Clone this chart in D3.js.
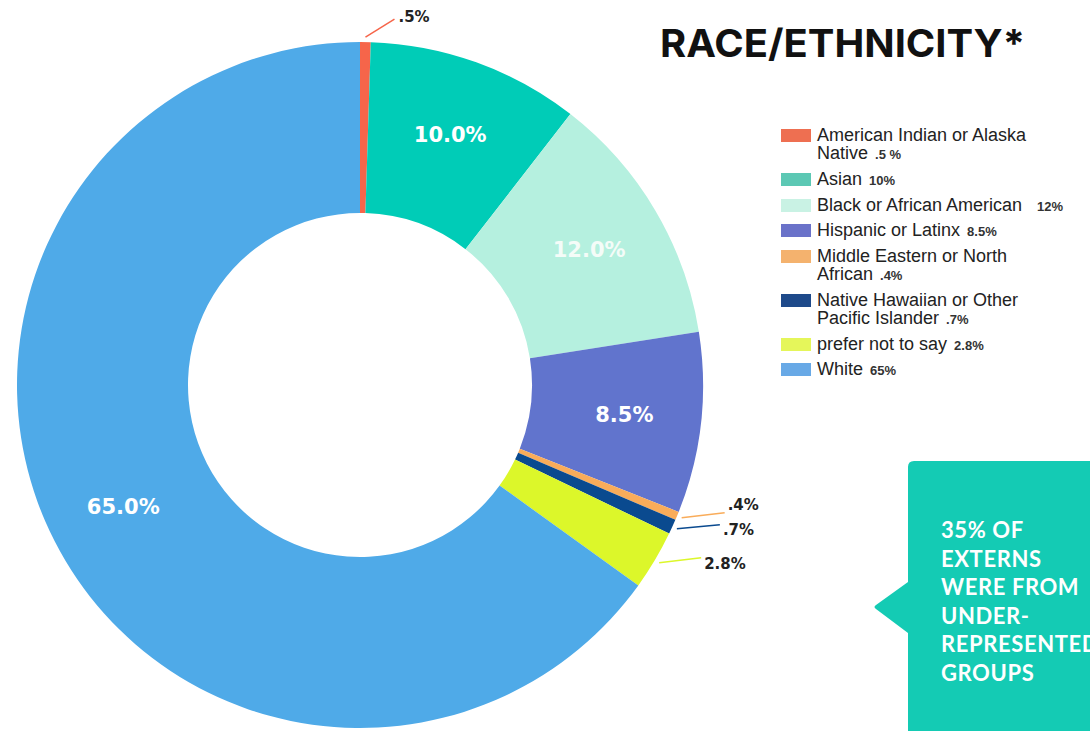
<!DOCTYPE html>
<html>
<head>
<meta charset="utf-8">
<script src="https://cdn.jsdelivr.net/npm/d3@7"></script>
<style>
  html, body { margin: 0; padding: 0; background: #fff; overflow: hidden; }
  svg { display: block; }
</style>
</head>
<body>
<svg id="chart" width="1090" height="731"></svg>
<script>
// ---------- DATA ----------
const categories = [
  "American Indian or Alaska Native",
  "Asian",
  "Black or African American",
  "Hispanic or Latinx",
  "Middle Eastern or North African",
  "Native Hawaiian or Other Pacific Islander",
  "prefer not to say",
  "White"
];
const values = [0.5, 10, 12, 8.5, 0.4, 0.7, 2.8, 65];
const sliceLabels = [".5%", "10.0%", "12.0%", "8.5%", ".4%", ".7%", "2.8%", "65.0%"];
const legendLines = [
  ["American Indian or Alaska", "Native"],
  ["Asian"],
  ["Black or African American"],
  ["Hispanic or Latinx"],
  ["Middle Eastern or North", "African"],
  ["Native Hawaiian or Other", "Pacific Islander"],
  ["prefer not to say"],
  ["White"]
];
const legendValues = [".5 %", "10%", "12%", "8.5%", ".4%", ".7%", "2.8%", "65%"];
const sliceColors = ["#f6654a", "#00ccb7", "#b5f0df", "#6174cd", "#f9ac5a", "#0a4a8f", "#dcf72a", "#4faae8"];
const legendColors = ["#ee6f51", "#5cc8b4", "#c9f2e4", "#6a72c9", "#f4b26e", "#1e4a8a", "#e5f65a", "#68a9e6"];
const title = "RACE/ETHNICITY*";
const calloutLines = ["35% OF", "EXTERNS", "WERE FROM", "UNDER-", "REPRESENTED", "GROUPS"];

// ---------- LAYOUT ----------
const svg = d3.select("#chart");
const cx = 360, cy = 385, rOuter = 343, rInner = 172, rLabel = 266;

const color = d3.scaleOrdinal().domain(categories).range(sliceColors);
const legendColor = d3.scaleOrdinal().domain(categories).range(legendColors);

const data = categories.map((c, i) => ({ name: c, value: values[i], label: sliceLabels[i], i }));
const pie = d3.pie().sort(null).value(d => d.value);
const arcs = pie(data);
const arc = d3.arc().innerRadius(rInner).outerRadius(rOuter);
const labelArc = d3.arc().innerRadius(rLabel).outerRadius(rLabel);

const g = svg.append("g").attr("transform", `translate(${cx},${cy})`);
g.selectAll("path.slice").data(arcs).join("path")
  .attr("class", "slice")
  .attr("d", arc)
  .attr("fill", d => color(d.data.name));

// inside labels (big slices)
const inside = arcs.filter(d => d.data.value >= 5);
g.selectAll("text.inlab").data(inside).join("text")
  .attr("class", "inlab")
  .attr("transform", d => `translate(${labelArc.centroid(d)})`)
  .attr("text-anchor", "middle")
  .attr("dy", "0.36em")
  .attr("font-family", "'DejaVu Sans', sans-serif")
  .attr("font-weight", "bold")
  .attr("font-size", 21)
  .attr("fill", d => d.data.name === "Black or African American" ? "#f4fcf8" : "#ffffff")
  .text(d => d.data.label);

// outside labels with leader lines
const outside = arcs.filter(d => d.data.value < 5);
const leaderOffset = { // dx, dy from start point to line end; text dx, dy from line end
  "American Indian or Alaska Native": [29, -18, 4, 3],
  "Middle Eastern or North African": [43, -5, 3, -3],
  "Native Hawaiian or Other Pacific Islander": [43, -4, 3, 10],
  "prefer not to say": [42, -5, 3, 11]
};
outside.forEach(d => {
  const mid = (d.startAngle + d.endAngle) / 2;
  const sx = Math.sin(mid) * (rOuter + 5);
  const sy = -Math.cos(mid) * (rOuter + 5);
  const o = leaderOffset[d.data.name];
  const ex = sx + o[0], ey = sy + o[1];
  g.append("line")
    .attr("x1", sx).attr("y1", sy).attr("x2", ex).attr("y2", ey)
    .attr("stroke", color(d.data.name))
    .attr("stroke-width", 1.5);
  g.append("text")
    .attr("x", ex + o[2]).attr("y", ey + o[3])
    .attr("font-family", "'DejaVu Sans', sans-serif")
    .attr("font-weight", "bold")
    .attr("font-size", 15)
    .attr("fill", "#222")
    .text(d.data.label);
});

// title
svg.append("text")
  .attr("x", 660).attr("y", 57)
  .attr("font-family", "Inter, 'Noto Sans', sans-serif")
  .attr("font-weight", 700)
  .attr("font-size", 38.5)
  .attr("fill", "#111")
  .attr("textLength", 365)
  .attr("lengthAdjust", "spacingAndGlyphs")
  .text(title);

// legend
const legendX = 781, swW = 30, swH = 13, textX = 817;
const firstBaselines = [141, 185, 211, 236, 262, 306, 350, 375];
const lineGap = 18;
const valueGap = { "Black or African American": 15 };
const lg = svg.append("g");
categories.forEach((c, i) => {
  const b = firstBaselines[i];
  lg.append("rect")
    .attr("x", legendX).attr("y", b - 12)
    .attr("width", swW).attr("height", swH)
    .attr("fill", legendColor(c));
  const lines = legendLines[i];
  let lastText;
  lines.forEach((ln, k) => {
    lastText = lg.append("text")
      .attr("x", textX).attr("y", b + k * lineGap)
      .attr("font-family", "'Liberation Sans', Arial, sans-serif")
      .attr("font-size", 18)
      .attr("fill", "#222")
      .text(ln);
  });
  const w = lastText.node().getComputedTextLength();
  lg.append("text")
    .attr("x", textX + w + (valueGap[c] || 7))
    .attr("y", b + (lines.length - 1) * lineGap)
    .attr("font-family", "'Liberation Sans', Arial, sans-serif")
    .attr("font-weight", "bold")
    .attr("font-size", 13)
    .attr("fill", "#333")
    .text(legendValues[i]);
});

// callout box
const bx = 908, by = 461, bw = 200, bh = 300, rc = 6;
const tipX = 873, tipY = 607, tTop = 582, tBot = 633;
const p = d3.path();
p.moveTo(bx + rc, by);
p.lineTo(bx + bw, by);
p.lineTo(bx + bw, by + bh);
p.lineTo(bx, by + bh);
p.lineTo(bx, tBot);
p.lineTo(tipX + 3, tipY + 2);
p.quadraticCurveTo(tipX, tipY, tipX + 3, tipY - 2);
p.lineTo(bx, tTop);
p.lineTo(bx, by + rc);
p.quadraticCurveTo(bx, by, bx + rc, by);
p.closePath();
svg.append("path").attr("d", p.toString()).attr("fill", "#14cbb4");

svg.append("g").selectAll("text").data(calloutLines).join("text")
  .attr("x", 941)
  .attr("y", (d, i) => 538 + i * 28.5)
  .attr("font-family", "Lato, Inter, sans-serif")
  .attr("font-weight", 700)
  .attr("font-size", 22)
  .attr("letter-spacing", 0.6)
  .attr("fill", "#ffffff")
  .text(d => d);
</script>
</body>
</html>
